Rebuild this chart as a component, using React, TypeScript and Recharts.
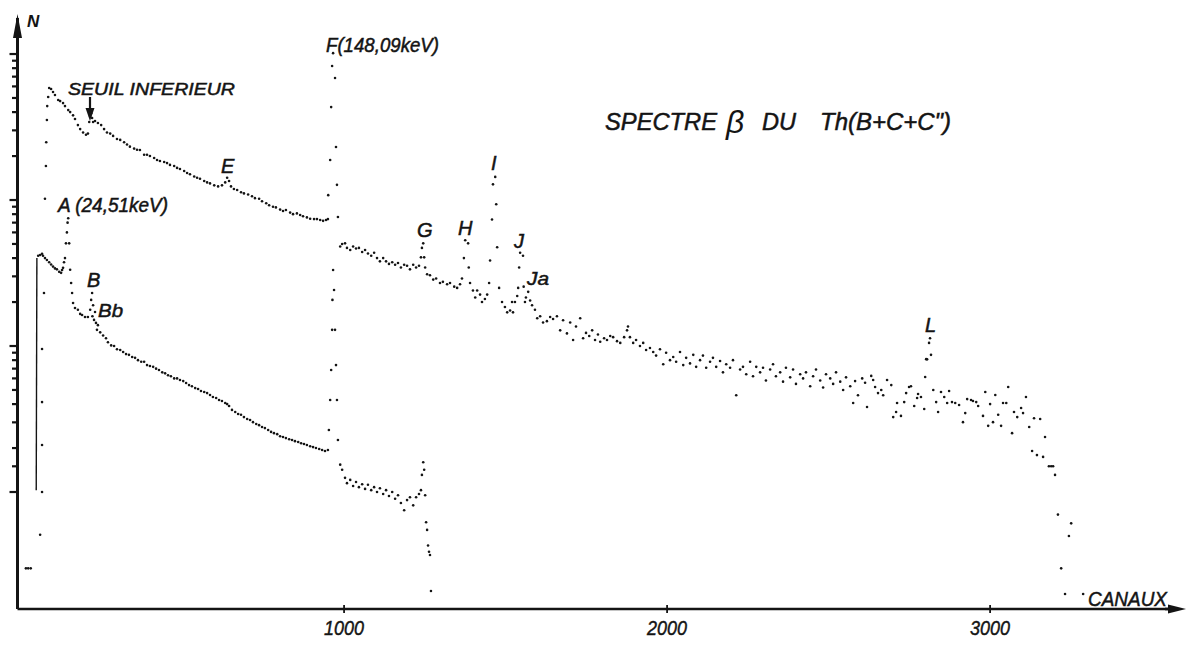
import React from "react";
import { ScatterChart, Scatter, XAxis, YAxis } from "recharts";

type P = [number, number];

// ---- data: [channel, counts N] ----
const upperBelowF: P[] = [
  [74, 1020], [77, 1710], [78, 2490], [80, 3530], [81, 4400], [84, 5080], [87, 5850], [93, 5760],
  [99, 5490], [105, 5240], [115, 4840], [121, 4760], [130, 4610], [136, 4400], [146, 4130], [152, 4000],
  [161, 3800], [167, 3590], [176, 3260], [183, 3060], [192, 2900], [201, 2800], [207, 2850],
  [211, 3420], [214, 3740], [217, 3930], [220, 3650], [223, 3420], [229, 3480], [238, 3370], [248, 3260],
  [257, 3060], [266, 2900], [276, 2850], [285, 2750], [297, 2620], [307, 2580], [319, 2490], [328, 2400],
  [337, 2320], [350, 2250], [359, 2210], [368, 2200], [381, 2040], [390, 2040], [399, 2000], [412, 1940],
  [421, 1880], [430, 1850], [443, 1820], [452, 1790], [461, 1740], [474, 1710], [483, 1660], [492, 1630],
  [505, 1580], [514, 1530], [523, 1500], [536, 1450], [545, 1420], [554, 1400], [567, 1350], [576, 1320],
  [585, 1300], [598, 1260], [610, 1240], [622, 1260], [632, 1320], [638, 1420], [644, 1350], [650, 1240],
  [659, 1190], [669, 1170], [681, 1130], [690, 1110], [703, 1090], [715, 1060], [724, 1030], [737, 1020],
  [746, 980], [759, 950], [768, 920], [780, 900], [789, 890], [802, 860], [811, 840], [820, 855],
  [833, 820], [842, 800], [854, 810], [864, 790], [873, 775], [885, 760], [895, 745], [907, 740],
  [916, 740], [926, 730], [935, 720], [944, 730], [950, 740],
];

const upperPeakF: P[] = [
  [951, 1080], [957, 1880], [960, 4330], [963, 8280], [966, 10140], [972, 6850], [975, 2310],
  [978, 1270], [981, 765], [988, 480], [994, 500],
];

const upperAboveF: P[] = [
  [1003, 505], [1009, 470], [1019, 455], [1028, 480], [1037, 465], [1046, 470], [1056, 440], [1065, 455],
  [1074, 430], [1084, 415], [1093, 435], [1102, 400], [1111, 380], [1121, 400], [1130, 380], [1139, 365],
  [1149, 375], [1158, 360], [1167, 370], [1176, 345], [1186, 360], [1195, 355], [1204, 335], [1214, 360],
  [1223, 345], [1232, 355], [1238, 405], [1241, 470], [1245, 505], [1248, 405], [1251, 345], [1257, 310],
  [1266, 305], [1276, 285], [1285, 290], [1297, 270], [1306, 275], [1319, 265], [1328, 270], [1341, 255],
  [1350, 250], [1359, 265], [1365, 290], [1371, 400], [1375, 530], [1384, 505], [1386, 345], [1390, 270],
  [1399, 240], [1406, 215], [1412, 240], [1421, 225], [1427, 200], [1436, 210], [1443, 225], [1449, 270],
  [1452, 385], [1458, 735], [1461, 1280], [1468, 1440], [1471, 935], [1474, 475], [1480, 250], [1489, 200],
  [1498, 185], [1505, 170], [1514, 175], [1520, 200], [1523, 170], [1529, 200], [1536, 220], [1539, 250],
  [1542, 345], [1545, 435], [1554, 415], [1556, 255], [1560, 200], [1563, 215], [1570, 235], [1576, 205],
  [1582, 190], [1591, 177], [1598, 155], [1607, 160], [1616, 145], [1628, 148], [1638, 158], [1647, 153],
  [1659, 160], [1669, 128], [1678, 150], [1690, 122], [1700, 145], [1709, 110], [1718, 136], [1731, 155],
  [1740, 113], [1749, 123], [1759, 117], [1768, 128], [1777, 110], [1786, 120], [1793, 107], [1805, 113],
  [1814, 110], [1824, 117], [1833, 115], [1845, 108], [1855, 105], [1867, 115], [1876, 128], [1879, 136],
  [1885, 115], [1895, 105], [1904, 110], [1916, 100], [1926, 105], [1935, 94], [1947, 97], [1957, 91],
  [1966, 86], [1978, 95], [1988, 75], [1997, 90], [2009, 80], [2019, 84], [2028, 78], [2040, 91],
  [2050, 74], [2059, 83], [2071, 76], [2081, 87], [2090, 72], [2102, 80], [2111, 86], [2121, 71],
  [2133, 78], [2142, 83], [2152, 72], [2164, 79], [2173, 66], [2183, 75], [2195, 71], [2204, 80],
  [2214, 46], [2226, 69], [2235, 72], [2245, 64], [2257, 78], [2266, 62], [2276, 72], [2288, 66],
  [2297, 71], [2306, 58], [2319, 69], [2328, 75], [2337, 62], [2350, 66], [2359, 57], [2368, 71],
  [2381, 61], [2390, 69], [2399, 55], [2412, 64], [2421, 60], [2430, 66], [2443, 53], [2452, 62],
  [2461, 69], [2474, 58], [2483, 52], [2492, 64], [2505, 60], [2514, 55], [2523, 66], [2536, 57],
  [2545, 50], [2554, 61], [2567, 53], [2576, 40.7], [2582, 57.5], [2591, 46], [2604, 60], [2613, 56],
  [2619, 38.2], [2632, 62.4], [2638, 58.5], [2644, 52.4], [2653, 47.6], [2663, 50], [2669, 46], [2681, 58.5],
  [2694, 54], [2700, 32.6], [2709, 35.3], [2712, 40.7], [2724, 33.2], [2734, 41.3], [2740, 47.6], [2749, 52.4],
  [2755, 53], [2765, 38.8], [2774, 44], [2777, 46.9], [2786, 44.7], [2796, 37], [2799, 61.4], [2802, 81.3],
  [2805, 81], [2811, 105], [2814, 113], [2817, 87], [2824, 50], [2833, 41.3], [2839, 35.3], [2848, 48.4],
  [2858, 44.7], [2867, 40.7], [2873, 49.2], [2882, 41.3], [2892, 40.7], [2904, 39.4], [2916, 30.1], [2923, 34.7],
  [2929, 43.3], [2941, 42.7], [2947, 42], [2957, 41.3], [2963, 38.8], [2978, 33.2], [2985, 48.4], [2994, 28.4],
  [3000, 40], [3009, 30.1], [3016, 46.2], [3025, 33.8], [3034, 28.4], [3040, 40.7], [3050, 40.7], [3056, 52.4],
  [3068, 25.3], [3074, 35.3], [3084, 32.6], [3096, 37.6], [3102, 34.7], [3111, 44.7], [3121, 27.9], [3130, 19.1],
  [3136, 32], [3145, 17.9], [3155, 31.6], [3164, 17.4], [3170, 23.8], [3182, 15], [3189, 15], [3195, 15],
  [3201, 13.1], [3210, 7.0], [3220, 3.0], [3232, 2.0], [3244, 5.0], [3251, 6.1], [3288, 2.0],
];

const lowerEdgeLine: P[] = [[47, 10.3], [49, 400]];

const lowerEdgeDots: P[] = [
  [15, 3.0], [22, 3.0], [30, 3.0], [59, 5.1], [65, 10], [65, 21], [65, 41.3], [65, 95.5], [71, 231],
];

const lowerBelowF: P[] = [
  [53, 415], [59, 420], [65, 428], [68, 415], [74, 400], [80, 388], [87, 375], [93, 362], [99, 350],
  [105, 340], [111, 335], [118, 322], [124, 317], [127, 332], [130, 343], [133, 375], [136, 400],
  [139, 505], [142, 600], [144, 700], [146, 750], [149, 505], [152, 333], [155, 270], [158, 231],
  [161, 197], [167, 182], [176, 177], [183, 166], [189, 163], [198, 158], [207, 158], [214, 177],
  [217, 207], [220, 231], [223, 190], [229, 171], [221, 160], [226, 151], [232, 144], [235, 129],
  [238, 139], [245, 124], [254, 118], [263, 113], [269, 106], [279, 101], [288, 100], [297, 95],
  [307, 94], [316, 91], [325, 88], [334, 87], [344, 84], [353, 83], [362, 80], [372, 78], [381, 78],
  [390, 74], [399, 73], [409, 72], [418, 70], [427, 68.5], [437, 66], [446, 65], [455, 63], [464, 62],
  [474, 60], [483, 60], [492, 58.5], [502, 57.5], [511, 55.8], [520, 54], [529, 53], [539, 51.5],
  [548, 50.8], [557, 49.2], [567, 48.4], [576, 47.6], [585, 46.2], [594, 44.7], [604, 44], [613, 42.7],
  [622, 42], [632, 40.7], [638, 40], [644, 38.8], [653, 36.5], [663, 35.3], [672, 34.2], [681, 33.8],
  [690, 32.6], [700, 31.6], [709, 31.1], [718, 30.1], [728, 29.2], [737, 28.7], [746, 27.9], [755, 27.4],
  [765, 26.6], [774, 25.8], [783, 25.3], [793, 24.9], [802, 24.1], [811, 23.8], [820, 23.4], [830, 23],
  [839, 22.7], [848, 22.3], [858, 22], [867, 21.6], [876, 21.3], [885, 21], [895, 20.6], [904, 20.3],
  [913, 20], [923, 19.7], [932, 19.4], [941, 19.1], [950, 19.4],
];

const lowerPeakF: P[] = [
  [953, 26.6], [957, 42.7], [960, 68.5], [963, 129], [964, 207], [966, 332], [969, 242], [972, 129],
  [975, 74], [978, 42.7], [981, 22.7], [988, 15.4],
];

const lowerAboveF: P[] = [
  [994, 14.2], [1003, 12.5], [1009, 11.5], [1019, 12.1], [1028, 11], [1037, 11.7], [1046, 10.8],
  [1056, 11.3], [1065, 10.5], [1074, 11.2], [1084, 10.3], [1093, 10.8], [1102, 10], [1111, 10.6],
  [1121, 9.7], [1130, 10.3], [1139, 9.4], [1149, 10], [1158, 9.0], [1167, 9.5], [1176, 8.4],
  [1186, 7.5], [1195, 8.8], [1204, 9.2], [1214, 8.1], [1223, 9.2], [1232, 9.7], [1238, 10.3],
  [1241, 13.1], [1245, 16.0], [1248, 14.2], [1251, 9.5], [1254, 6.2], [1257, 5.5], [1260, 4.3],
  [1263, 3.9], [1266, 3.7], [1269, 2.1],
];

const xTicks = [1000, 2000, 3000];
const yDecades = [10, 100, 1000, 10000];
const yTicks = [
  10, 15, 20, 30, 40, 50, 60, 70, 80, 90,
  100, 200, 300, 400, 500, 600, 700, 800, 900,
  1000, 2000, 3000, 4000, 5000, 6000, 7000, 8000, 9000, 10000,
];

const toPts = (a: P[]) => a.map(([x, y]) => ({ x, y }));

const AXIS_X = 17.5;
const AXIS_Y = 609;
const INK = "#141414";
const FONT = "'Liberation Sans', Arial, sans-serif";

const Dot = (props: any) => (
  <circle cx={props.cx} cy={props.cy} r={1.3} fill={INK} />
);
const NoDot = () => <g />;

const YTick = (props: any) => {
  const v = props.payload.value;
  const len = yDecades.includes(v) ? 8 : 5.5;
  return (
    <line x1={AXIS_X - len} x2={AXIS_X} y1={props.y} y2={props.y} stroke={INK} strokeWidth={2.2} />
  );
};

const XTick = (props: any) => (
  <g>
    <line x1={props.x} x2={props.x} y1={AXIS_Y - 4} y2={AXIS_Y + 4} stroke={INK} strokeWidth={1.8} />
    <text
      x={props.x}
      y={AXIS_Y + 26}
      textAnchor="middle"
      fontFamily={FONT}
      fontStyle="italic"
      fontSize={21}
      fill={INK}
      stroke={INK}
      strokeWidth={0.45}
      textLength={40}
      lengthAdjust="spacingAndGlyphs"
    >
      {props.payload.value}
    </text>
  </g>
);

const T = ({ x, y, s = 18, w, children }: any) => (
  <text
    x={x}
    y={y}
    fontFamily={FONT}
    fontStyle="italic"
    fontSize={s}
    fill={INK}
    stroke={INK}
    strokeWidth={0.5}
    textLength={w}
    lengthAdjust={w ? "spacingAndGlyphs" : undefined}
  >
    {children}
  </text>
);

export default function App() {
  return (
    <div style={{ position: "absolute", left: 0, top: 0, width: 1186, height: 663, background: "#fff" }}>
      <ScatterChart width={1186} height={663} margin={{ top: 18, right: 15, bottom: 24, left: 0 }}>
        <XAxis
          type="number"
          dataKey="x"
          domain={[-11, 3560]}
          ticks={xTicks}
          interval={0}
          height={30}
          tickLine={false}
          axisLine={{ stroke: INK, strokeWidth: 2.6 }}
          tick={<XTick />}
          allowDataOverflow
        />
        <YAxis
          type="number"
          dataKey="y"
          scale="log"
          domain={[1.58, 17650]}
          ticks={yTicks}
          interval={0}
          width={17.5}
          tickLine={false}
          axisLine={{ stroke: INK, strokeWidth: 3 }}
          tick={<YTick />}
          allowDataOverflow
        />
        <Scatter data={toPts(upperBelowF)} shape={Dot} isAnimationActive={false} />
        <Scatter data={toPts(upperPeakF)} shape={Dot} isAnimationActive={false} />
        <Scatter data={toPts(upperAboveF)} shape={Dot} isAnimationActive={false} />
        <Scatter
          data={toPts(lowerEdgeLine)}
          shape={NoDot}
          line={{ stroke: INK, strokeWidth: 1.4 }}
          lineType="joint"
          isAnimationActive={false}
        />
        <Scatter data={toPts(lowerEdgeDots)} shape={Dot} isAnimationActive={false} />
        <Scatter data={toPts(lowerBelowF)} shape={Dot} isAnimationActive={false} />
        <Scatter data={toPts(lowerPeakF)} shape={Dot} isAnimationActive={false} />
        <Scatter data={toPts(lowerAboveF)} shape={Dot} isAnimationActive={false} />
      </ScatterChart>
      <svg
        width={1186}
        height={663}
        style={{ position: "absolute", left: 0, top: 0, pointerEvents: "none" }}
      >
        {/* axis arrows */}
        <polygon points={`${AXIS_X},14 ${AXIS_X - 4.5},38 ${AXIS_X + 4.5},38`} fill={INK} />
        <polygon points={`1186,${AXIS_Y} 1168,${AXIS_Y - 4.5} 1168,${AXIS_Y + 4.5}`} fill={INK} />
        <line x1={1165} x2={1172} y1={AXIS_Y} y2={AXIS_Y} stroke={INK} strokeWidth={2.6} />
        {/* SEUIL arrow */}
        <line x1={90} x2={90} y1={97} y2={110} stroke={INK} strokeWidth={2.2} />
        <polygon points="85.5,108 94.5,108 90,121" fill={INK} />

        <text x={27} y={27} fontFamily={FONT} fontStyle="italic" fontWeight="bold" fontSize={17} fill={INK}>
          N
        </text>
        <T x={68} y={95} s={17} w={167}>SEUIL INFERIEUR</T>
        <T x={221} y={173} s={20}>E</T>
        <T x={58} y={212} s={19.5} w={110}>A (24,51keV)</T>
        <T x={87} y={287} s={20}>B</T>
        <T x={98} y={317} s={19} w={25}>Bb</T>
        <T x={326} y={52} s={19.5} w={113}>F(148,09keV)</T>
        <T x={417} y={237} s={20}>G</T>
        <T x={458} y={235} s={20}>H</T>
        <T x={491} y={170} s={20}>I</T>
        <T x={514} y={248} s={20}>J</T>
        <T x={527} y={285} s={19} w={22}>Ja</T>
        <T x={925} y={332} s={20}>L</T>
        <T x={605} y={130} s={24} w={112}>SPECTRE</T>
        <text x={726} y={133} fontFamily={FONT} fontStyle="italic" fontSize={32} fill={INK}>
          β
        </text>
        <T x={762} y={130} s={24} w={34}>DU</T>
        <T x={820} y={130} s={24} w={131}>Th(B+C+C")</T>
        <T x={1088} y={606} s={21} w={79}>CANAUX</T>
      </svg>
    </div>
  );
}
